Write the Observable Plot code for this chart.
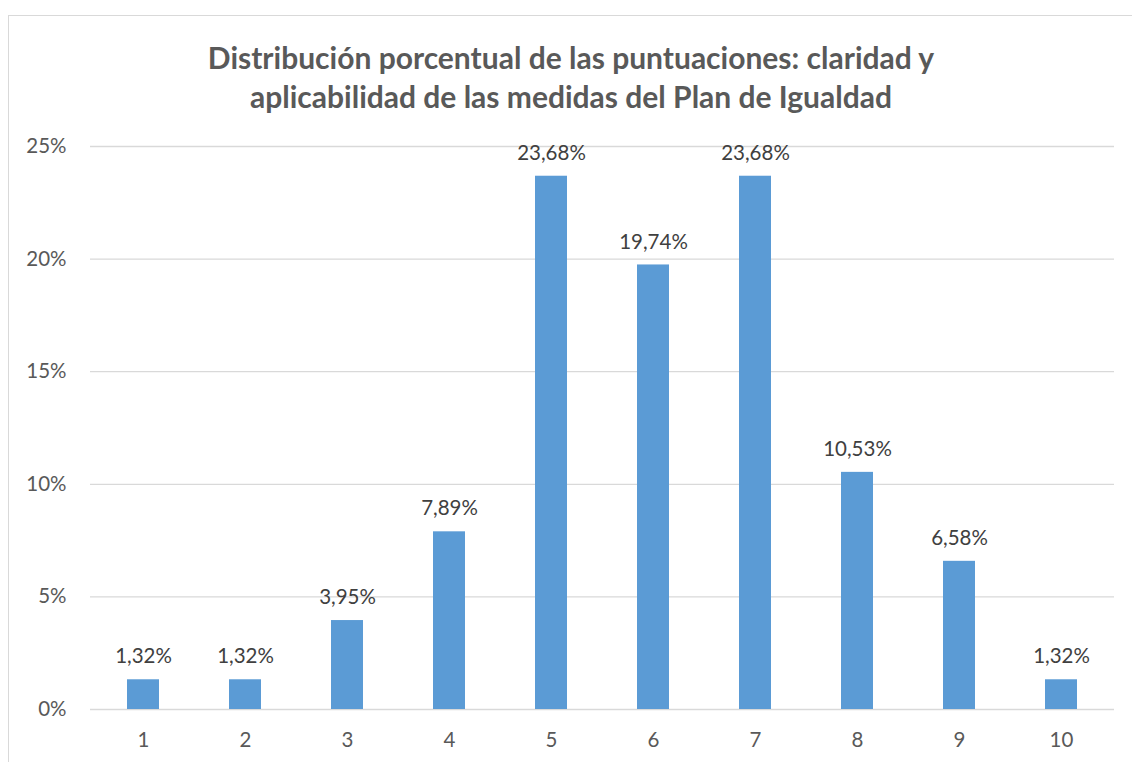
<!DOCTYPE html>
<html>
<head>
<meta charset="utf-8">
<script src="https://cdn.jsdelivr.net/npm/d3@7"></script>
<script src="https://cdn.jsdelivr.net/npm/@observablehq/plot@0.6"></script>
<style>
  html, body { margin: 0; padding: 0; background: #fff; overflow: hidden; }
  #wrap { position: relative; width: 1132px; height: 762px; font-family: Lato, "Open Sans", sans-serif; }
  #frame { position: absolute; left: 8px; top: 15px; width: 1200px; height: 800px; border: 1px solid #d9d9d9; box-sizing: border-box; }
  #title { position: absolute; left: 0; top: 38px; width: 1142px; text-align: center; font-size: 30px; font-weight: bold; color: #595959; line-height: 39px; }
  #chart { position: absolute; left: 0; top: 130px; }
</style>
</head>
<body>
<div id="wrap">
  <div id="frame"></div>
  <div id="title">Distribución porcentual de las puntuaciones: claridad y<br>aplicabilidad de las medidas del Plan de Igualdad</div>
  <div id="chart"></div>
</div>
<script>
const scores = ["1", "2", "3", "4", "5", "6", "7", "8", "9", "10"];
const percents = [1.32, 1.32, 3.95, 7.89, 23.68, 19.74, 23.68, 10.53, 6.58, 1.32];
const yTicks = [0, 5, 10, 15, 20, 25];

const data = scores.map((s, i) => ({score: s, value: percents[i]}));
const fmt = v => v.toFixed(2).replace(".", ",") + "%";

const plot = Plot.plot({
  width: 1132,
  height: 632,
  marginLeft: 90,
  marginRight: 18,
  marginTop: 16,
  marginBottom: 53,
  style: { fontFamily: "Lato, 'Open Sans', sans-serif", fontSize: "20.5px", color: "#595959", background: "transparent" },
  x: { domain: scores, paddingInner: 0.69, paddingOuter: 0.345, label: null },
  y: { domain: [0, 25], label: null },
  marks: [
    Plot.ruleY(yTicks, { stroke: "#d9d9d9", strokeWidth: 1.3 }),
    Plot.barY(data, { x: "score", y: "value", fill: "#5b9bd5" }),
    Plot.text(data, { x: "score", y: "value", text: d => fmt(d.value), dy: -23, fill: "#404040", fontSize: 20.5 }),
    Plot.axisY({ ticks: yTicks, tickFormat: d => d + "%", tickSize: 0, tickPadding: 24, fill: "#595959", fontSize: 20.5, label: null }),
    Plot.axisX({ tickSize: 0, tickPadding: 23, fill: "#595959", fontSize: 20.5, label: null })
  ]
});
document.getElementById("chart").appendChild(plot);
</script>
</body>
</html>
